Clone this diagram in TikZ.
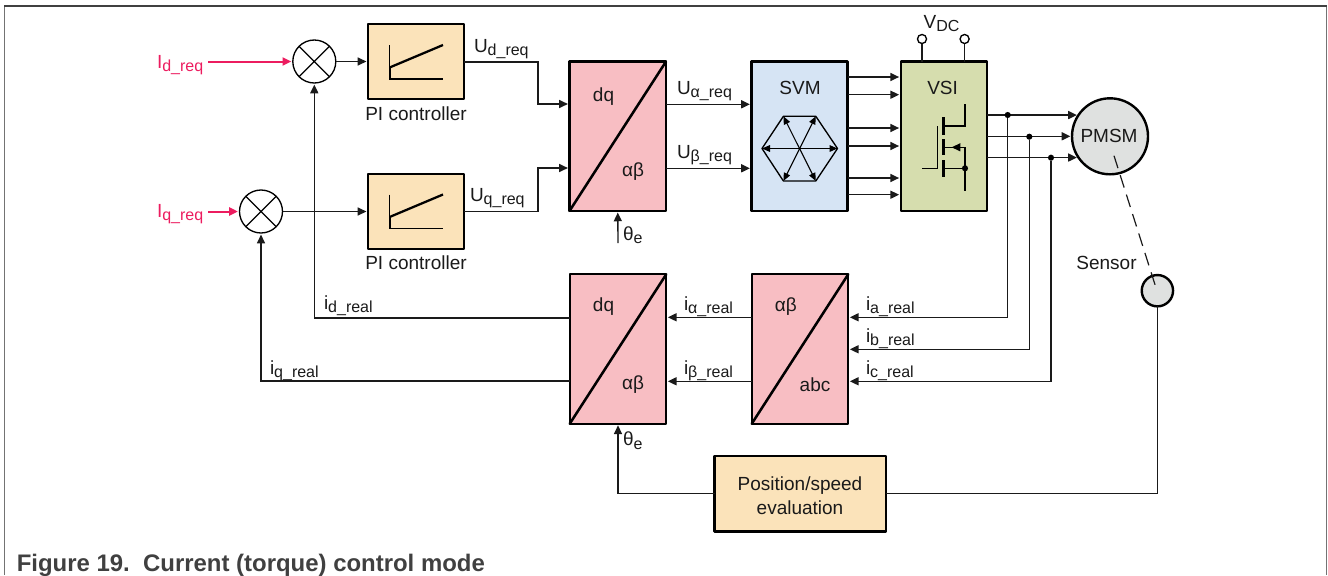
\documentclass[tikz,border=0pt]{standalone}
\usepackage{fontspec}
\setmainfont{Liberation Sans}
\usetikzlibrary{arrows.meta}
\definecolor{cpi}{HTML}{FBE3BA}
\definecolor{cpink}{HTML}{F8BEC3}
\definecolor{csvm}{HTML}{D6E4F4}
\definecolor{cvsi}{HTML}{D6DDAE}
\definecolor{cgr}{HTML}{DFE1E0}
\definecolor{cred}{HTML}{EC1C5F}
\definecolor{cline}{HTML}{1A1A1A}
\newcommand{\sbs}[1]{\raisebox{-2.5pt}{\fontsize{12}{12}\selectfont #1}}
\tikzset{
  x=0.75pt,y=-0.75pt,
  every node/.style={font=\fontsize{14.25}{17}\selectfont,text=cline},
  box/.style={draw=black,line width=1.8pt,outer sep=0pt,inner sep=0pt,line join=round},
  pibox/.style={box,fill=cpi,minimum width=72pt,minimum height=56.25pt},
  convbox/.style={box,fill=cpink,minimum width=72.4pt,minimum height=112.1pt},
  lbl/.style={anchor=base west,inner sep=0pt,outer sep=0pt},
  ctr/.style={anchor=center,inner sep=0pt,outer sep=0pt},
  sumc/.style={circle,draw=black,fill=white,line width=1pt,minimum size=32.25pt,inner sep=0pt,outer sep=0pt},
  term/.style={circle,draw=black,fill=white,line width=1pt,minimum size=6.8pt,inner sep=0pt,outer sep=0pt},
  motor/.style={circle,draw=black,fill=cgr,line width=1.8pt,inner sep=0pt,outer sep=0pt},
  wire/.style={line width=1pt,draw=cline},
  arr/.style={wire,-{Triangle[length=6.5pt,width=6pt]},shorten >=1.2pt},
  rarr/.style={line width=1.5pt,color=cred,-{Triangle[length=6.5pt,width=6pt]},shorten >=1.2pt},
  hexarr/.style={line width=.8pt,{Triangle[length=6pt,width=5pt]}-{Triangle[length=6pt,width=5pt]}},
  jdot/.style={circle,fill=black,minimum size=4.6pt,inner sep=0pt,outer sep=0pt},
}
\begin{document}
\begin{tikzpicture}
\useasboundingbox (0,0) rectangle (1328,575);
% page frame
\draw[line width=1.1pt,draw=black!55] (4.6,575) -- (4.6,6);
\draw[line width=1.1pt,draw=black!55] (1326.5,575) -- (1326.5,6);
\draw[line width=1.1pt,draw=black!75] (4,6) -- (1327,6);
% blocks
\node[sumc] (c1) at (314.3,61.5) {};
\node[sumc] (c2) at (261,211.5) {};
\draw[line width=1pt] (c1.north west) -- (c1.south east) (c1.north east) -- (c1.south west);
\draw[line width=1pt] (c2.north west) -- (c2.south east) (c2.north east) -- (c2.south west);
\node[pibox] (pi1) at (416,61.5) {};
\node[pibox] (pi2) at (416,211.5) {};
\node[convbox] (dq1) at (617.75,136.25) {};
\node[convbox] (dq2) at (618,349) {};
\node[convbox] (abc) at (800,349) {};
\node[box,fill=csvm,minimum width=72pt,minimum height=112.1pt] (svm) at (799.5,136.25) {};
\node[box,fill=cvsi,minimum width=64.5pt,minimum height=112.1pt] (vsi) at (943.7,136.25) {};
\node[pibox,minimum width=128.5pt,minimum height=56.5pt] (pos) at (800.35,493.7) {};
\node[ctr,align=center] (post) at (800,495.3) {Position/speed\\[1pt]evaluation};
\node[motor,minimum size=57pt] (pmsm) at (1110,136.3) {};
\node[ctr] (pmsmt) at (1109,136) {PMSM};
\node[motor,minimum size=23.5pt] (sensor) at (1157.4,290.7) {};
% diagonals
\foreach \b in {dq1,dq2,abc} \draw[line width=1.9pt,line cap=round] (\b.south west) -- (\b.north east);
% PI plots
\foreach \d/\n in {0/a,149.5/b}{
  \draw[line width=1pt] (389.6,45+\d) -- (389.6,79+\d) -- (443,79+\d);
  \draw[line width=1.7pt] (389.6,67.5+\d) -- (443,45+\d);
  \draw[line width=1.4pt] (389.6,67.5+\d) -- (389.6,79+\d);
}
% SVM hexagon
\coordinate (hc) at (799.6,148.5);
\coordinate (hl) at (762,148.5);
\coordinate (hr) at (837.5,148.5);
\coordinate (ha) at (783.4,116.3);
\coordinate (hb) at (815.8,116.3);
\coordinate (hd) at (783.4,181);
\coordinate (he) at (815.8,181);
\draw[line width=1pt,line join=round] (hl) -- (ha) -- (hb) -- (hr) -- (he) -- (hd) -- cycle;
\draw[hexarr] (hl) -- (hr);
\draw[hexarr] (ha) -- (he);
\draw[hexarr] (hb) -- (hd);
% transistor
\draw[line width=1.8pt] (943.3,117.3) -- (943.3,135) (943.3,139) -- (943.3,155) (943.3,160) -- (943.3,176.7);
\draw[line width=1pt] (965,104) -- (965,126) -- (943.3,126);
\draw[line width=1pt] (937.3,126) -- (937.3,168.3) -- (921.7,168.3);
\draw[line width=1pt] (943.3,168.3) -- (965,168.3);
\draw[line width=1pt] (965,190.7) -- (965,147.3) -- (943.3,147.3);
\draw[line width=1pt,-{Triangle[length=6.5pt,width=6pt]}] (965,147.3) -- (951.7,147.3);
\node[jdot] (jt) at (965,168.3) {};
% terminals
\node[term] (t1) at (922,39) {};
\node[term] (t2) at (964.6,39) {};
\draw[wire] (t1) -- (t1 |- vsi.north);
\draw[wire] (t2) -- (t2 |- vsi.north);
% forward connectors
\node[lbl,text=cred] (ld) at (157,68.5) {I\sbs{d\_req}};
\node[lbl,text=cred] (lq) at (157,217.5) {I\sbs{q\_req}};
\coordinate (rd) at (208,61.5);
\coordinate (rq) at (208,211.5);
\draw[rarr] (rd) -- (c1.west);
\draw[rarr] (rq) -- (c2.west);
\draw[arr] (c1.east) -- (pi1.west);
\draw[arr] (c2.east) -- (pi2.west);
\coordinate (m1) at (538,62);
\coordinate (m2) at (538,211.5);
\draw[arr] (pi1.east |- m1) -- (m1) -- (m1 |- 0,104) -- (dq1.west |- 0,104);
\draw[arr] (pi2.east |- m2) -- (m2) -- (m2 |- 0,168) -- (dq1.west |- 0,168);
\draw[arr] (dq1.east |- 0,104.3) -- (svm.west |- 0,104.3);
\draw[arr] (dq1.east |- 0,168.3) -- (svm.west |- 0,168.3);
\foreach \y in {77,94.7,128,146,178,194.7}
  \draw[arr] (svm.east |- 0,\y) -- (vsi.west |- 0,\y);
\draw[arr] (vsi.east |- pmsm.146) -- (pmsm.146);
\draw[arr] (vsi.east |- pmsm.west) -- (pmsm.west);
\draw[arr] (vsi.east |- pmsm.214) -- (pmsm.214);
% current feedback
\node[jdot] (j1) at (1007.7,115) {};
\node[jdot] (j2) at (1029.3,136.7) {};
\node[jdot] (j3) at (1051,157.7) {};
\draw[arr] (j1) |- (abc.east |- 0,317.3);
\draw[arr] (j2) |- (abc.east |- 0,349.3);
\draw[arr] (j3) |- (abc.east |- 0,381.3);
\draw[arr] (abc.west |- 0,317.3) -- (dq2.east |- 0,317.3);
\draw[arr] (abc.west |- 0,381.3) -- (dq2.east |- 0,381.3);
\draw[arr] (dq2.west |- 0,318) -| (c1.south);
\draw[arr] (dq2.west |- 0,381) -| (c2.south);
% position
\coordinate (th1) at (618,243);
\draw[arr] (th1) -- (dq1.south);
\draw[arr] (pos.west) -| (dq2.south);
\draw[wire] (pos.east) -| (sensor.south);
\coordinate (ds1) at (1114,155.7);
\coordinate (ds2) at (1156.7,290);
\draw[line width=.9pt,draw=cline,dash pattern=on 9.8pt off 5.5pt] (ds1) -- (ds2);
% labels
\node[ctr] (p1t) at (416,114) {PI controller};
\node[ctr] (p2t) at (416,263) {PI controller};
\node[lbl] (ud) at (474,52) {U\sbs{d\_req}};
\node[lbl] (uq) at (470,201) {U\sbs{q\_req}};
\node[lbl] (ua) at (677,94.5) {U\sbs{α\_req}};
\node[lbl] (ub) at (677,158.5) {U\sbs{β\_req}};
\node[ctr] (t11) at (603.5,96.5) {dq};
\node[ctr] (t12) at (633,172) {αβ};
\node[ctr] (t21) at (603.5,307) {dq};
\node[ctr] (t22) at (633,385) {αβ};
\node[ctr] (t31) at (785.8,307) {αβ};
\node[ctr] (t32) at (815,385) {abc};
\node[ctr] (svmt) at (800,87.7) {SVM};
\node[ctr] (vsit) at (942.6,87.7) {VSI};
\node[lbl] (vdc) at (923.7,28.5) {V\sbs{DC}};
\node[lbl] (th1t) at (623,240) {θ\sbs{e}};
\node[lbl] (th2t) at (623,445.7) {θ\sbs{e}};
\node[ctr] (sen) at (1106.5,263) {Sensor};
\node[lbl] (ia) at (684,310) {i\sbs{α\_real}};
\node[lbl] (ib) at (684,374) {i\sbs{β\_real}};
\node[lbl] (iar) at (866,310) {i\sbs{a\_real}};
\node[lbl] (ibr) at (866,342) {i\sbs{b\_real}};
\node[lbl] (icr) at (866,374) {i\sbs{c\_real}};
\node[lbl] (idr) at (324,309) {i\sbs{d\_real}};
\node[lbl] (iqr) at (270,374) {i\sbs{q\_real}};
\node[lbl,font=\fontsize{17.95}{20}\selectfont\bfseries,text=black!75] (cap) at (16.8,571.7) {Figure 19.\ \ Current (torque) control mode};
\end{tikzpicture}
\end{document}
